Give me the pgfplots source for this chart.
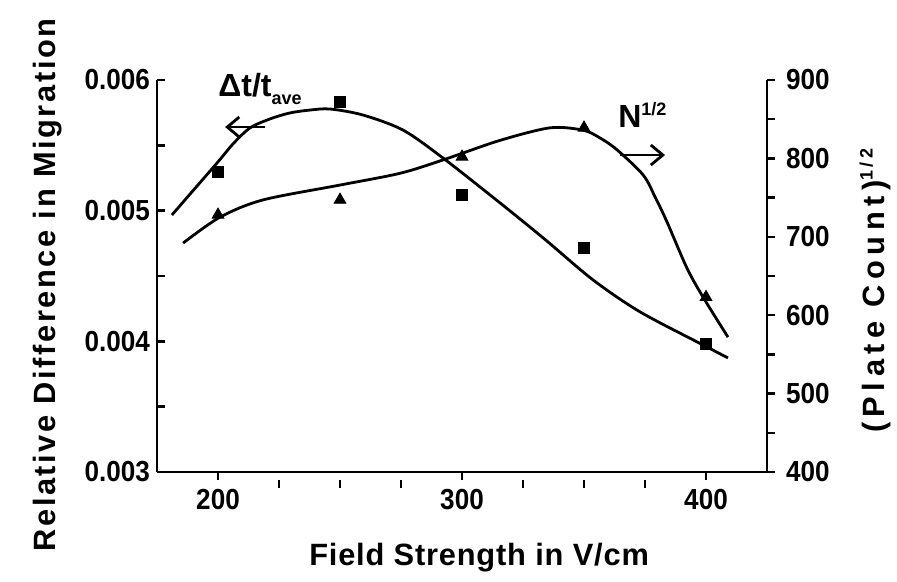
\documentclass[border=0pt]{standalone}
\usepackage{fontspec}
\setmainfont{Liberation Sans}
\newfontfamily\tickfont{Liberation Sans Bold}[FakeStretch=0.9]
\newfontfamily\labA{Liberation Sans Bold}[LetterSpace=2.6]
\newfontfamily\labB{Liberation Sans Bold}[LetterSpace=8.4]
\newfontfamily\labC{Liberation Sans Bold}[LetterSpace=18]
\newfontfamily\annfont{Liberation Sans Bold}
\usepackage{pgfplots}
\pgfplotsset{compat=1.18}
\usetikzlibrary{arrows.meta}
\begin{document}
\begin{tikzpicture}
\pgfplotsset{
  common/.style={
    width=305pt, height=196pt, scale only axis,
    xmin=175, xmax=425,
    /pgf/number format/assume math mode=true,
    ticklabel style={font=\tickfont\fontsize{14.5}{14.5}\selectfont},
    axis line style={line width=1.4pt},
    major tick length=4pt, minor tick length=4pt,
    every tick/.style={black, line width=1.2pt},
  }
}
\begin{axis}[
  common,
  ymin=0.003, ymax=0.006,
  axis x line*=bottom, axis y line*=left,
  xtick={200,300,400}, minor xtick={225,250,275,325,350,375},
  ytick={0.003,0.004,0.005,0.006}, minor ytick={0.0035,0.0045,0.0055},
  yticklabels={0.003,0.004,0.005,0.006},
  scaled y ticks=false,
  tick align=inside,
  every x tick/.append style={yshift=-4pt},
  every minor x tick/.append style={yshift=-4pt},
  xticklabel style={yshift=-5pt},
  xlabel={\labA\fontsize{15.4}{16}\selectfont Field Strength in V/cm},
  xlabel style={at={(axis description cs:0.528,0)}, anchor=north, yshift=-32pt},
  ylabel={\labB\fontsize{15.4}{16}\selectfont Relative Difference in Migration},
  ylabel style={at={(axis description cs:-0.167,0.477)}, anchor=base, rotate=0},
  clip=false,
]
\addplot[only marks, mark=square*, mark size=2.8pt, black] coordinates {
  (200,0.005296)(250,0.005832)(300,0.00512)(350,0.004715)(400,0.00398)};
\addplot[smooth, line width=1.4pt, black, no markers] coordinates {
  (181.1,0.004967)(199.6,0.005365)(206.1,0.005510)(213.1,0.005633)(221.3,0.005702)
  (229.5,0.005748)(237.7,0.005770)(245.9,0.005778)
  (259.4,0.005732)(275.8,0.005617)(292.2,0.005403)(315.6,0.005059)(334,0.004780)
  (353.7,0.004470)(373.0,0.004225)(398.8,0.003972)(409.0,0.003873)};
\draw[line width=1.4pt, -{Straight Barb[length=6pt,width=10pt]}] (axis cs:219.3,0.00564) -- (axis cs:202.9,0.00564);
\node[anchor=base west, inner sep=0pt, font=\annfont\fontsize{16}{16}\selectfont] at (axis cs:200,0.00587) {Δt/t\raisebox{-4pt}{\fontsize{9}{9}\selectfont ave}};
\coordinate (bbl) at (axis description cs:-0.2574,-0.2781);
\coordinate (btr) at (axis description cs:1.2131,1.2041);
\end{axis}
\begin{axis}[
  common,
  ymin=400, ymax=900,
  axis x line=none, axis y line*=right,
  ytick={400,500,600,700,800,900}, minor ytick={450,550,650,750,850},
  tick align=outside,
  yticklabel style={xshift=2pt},
  ylabel={\labC\fontsize{15.4}{16}\selectfont (Plate Count)\raisebox{6pt}{\fontsize{9}{9}\selectfont 1/2}},
  ylabel style={at={(axis description cs:1.193,0.462)}, anchor=base, rotate=0},
  clip=false,
]
\addplot[only marks, mark=triangle*, mark size=3.4pt, black] coordinates {
  (200,728)(250,747)(300,802)(350,839)(400,623)};
\addplot[smooth, line width=1.4pt, black, no markers] coordinates {
  (185.7,692)(200.8,725)(218.4,747)(250,766)(274.6,781)(292.2,798)(315.6,823)
  (336.1,839)(349.6,836)(356.6,826)(363.5,811)(374.2,779)(379.1,751)(384,719)
  (392.2,660)(398.8,623)(409,572)};
\draw[line width=1.4pt, -{Straight Barb[length=6pt,width=10pt]}] (axis cs:364.8,804.3) -- (axis cs:383.2,804.3);
\node[anchor=base west, inner sep=0pt, font=\annfont\fontsize{16}{16}\selectfont] at (axis cs:363.9,840) {N\raisebox{6pt}{\fontsize{9}{9}\selectfont 1/2}};
\end{axis}
\pgfresetboundingbox
\path[use as bounding box] (bbl) rectangle (btr);
\end{tikzpicture}
\end{document}
